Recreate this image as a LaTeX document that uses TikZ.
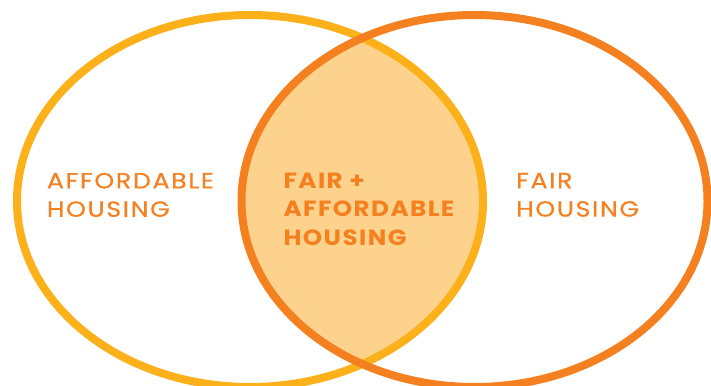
\documentclass[tikz,border=0pt]{standalone}
\usepackage{fontspec}
\setmainfont{Poppins}
\newfontfamily\vennfont[FakeStretch=1.15, LetterSpace=7.5, FakeBold=0.5]{Poppins}
\newfontfamily\vennboldfont[FakeStretch=1.12, LetterSpace=6.5]{Poppins}
\definecolor{ringyellow}{RGB}{252,176,26}
\definecolor{ringorange}{RGB}{244,128,32}
\definecolor{lensfill}{RGB}{253,210,140}

\begin{document}
\begin{tikzpicture}[x=1pt,y=1pt,
  ring/.style={line width=8pt},
  venntext/.style={anchor=north west, inner sep=0pt, align=left, text=ringorange,
    font=\vennfont\fontsize{22}{28.4}\selectfont},
  ]

\useasboundingbox (0,0) rectangle (711,385);

% overlap of the two sets
\begin{scope}
  \clip (250,184) ellipse (233 and 186);
  \fill[lensfill] (474.5,184) ellipse (233 and 186);
\end{scope}

\draw[ring, ringyellow] (250,184) ellipse (233 and 186);
\draw[ring, ringorange] (474.5,184) ellipse (233 and 186);

\node[venntext] (afford) at (46.7,212.3) {AFFORDABLE\\HOUSING};
\node[venntext, font=\vennboldfont\fontsize{22}{28.4}\selectfont\bfseries] (both) at (283.3,212.3) {FAIR +\\AFFORDABLE\\HOUSING};
\node[venntext] (fair) at (516,212.3) {FAIR\\HOUSING};

\end{tikzpicture}
\end{document}
